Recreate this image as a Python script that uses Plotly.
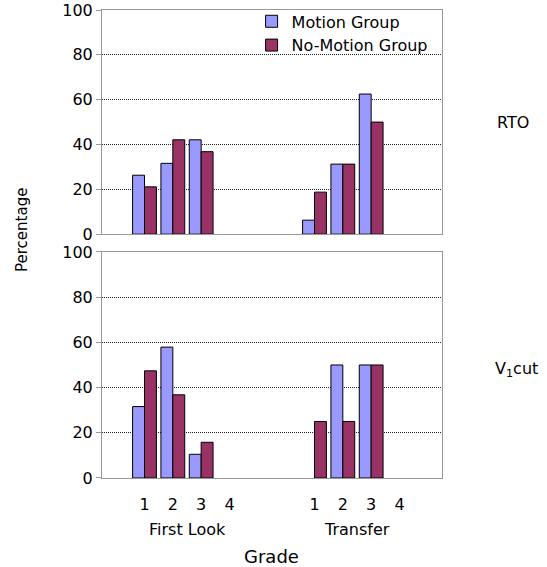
import plotly.graph_objects as go
from plotly.subplots import make_subplots

positions = [1, 2, 3, 4, 7, 8, 9, 10]
tick_labels = ["1", "2", "3", "4", "1", "2", "3", "4"]
group_labels = ["First Look", "Transfer"]
group_centers = [2.5, 8.5]

rto_motion = [26.3, 31.6, 42.1, 0, 6.25, 31.25, 62.5, 0]
rto_nomotion = [21.1, 42.1, 36.8, 0, 18.75, 31.25, 50, 0]
v1_motion = [31.6, 57.9, 10.5, 0, 0, 50, 50, 0]
v1_nomotion = [47.4, 36.8, 15.8, 0, 25, 25, 50, 0]

MOTION = "#9999FF"
NOMOTION = "#993366"
FONT = "DejaVu Sans"

W, H = 547, 567
ML, MR, MT, MB = 102, 105, 10, 89
W_PLOT = W - ML - MR
H_PLOT = H - MT - MB


def px(pix):
    return (pix - ML) / W_PLOT


def py(pix):
    return (H - MB - pix) / H_PLOT


fig = make_subplots(rows=2, cols=1, shared_xaxes=True, vertical_spacing=0.038)


def nz(v):
    return [x if x else None for x in v]


for row, (m, n) in enumerate([(rto_motion, rto_nomotion), (v1_motion, v1_nomotion)], start=1):
    fig.add_trace(go.Bar(x=positions, y=nz(m), name="Motion Group", marker_color=MOTION,
                         marker_line=dict(color="black", width=1), showlegend=(row == 1)), row=row, col=1)
    fig.add_trace(go.Bar(x=positions, y=nz(n), name="No-Motion Group", marker_color=NOMOTION,
                         marker_line=dict(color="black", width=1), showlegend=(row == 1)), row=row, col=1)

axis_common = dict(showline=True, linecolor="#999999", linewidth=1, mirror=True, zeroline=False,
                   automargin=False)
fig.update_xaxes(range=[-0.5, 11.5], tickvals=positions, ticktext=tick_labels, ticks="",
                 ticklabelstandoff=12,
                 showgrid=False, tickfont=dict(family=FONT, size=16, color="black"), **axis_common)
fig.update_yaxes(range=[0, 100], dtick=20, ticks="outside", ticklen=5, tickcolor="#999999",
                 showgrid=True, gridcolor="#222222", griddash="1px,1px", gridwidth=1,
                 tickfont=dict(family=FONT, size=16, color="black"), **axis_common)

fig.update_layout(
    width=W, height=H,
    margin=dict(l=ML, r=MR, t=MT, b=MB, autoexpand=False),
    plot_bgcolor="white", paper_bgcolor="white",
    barmode="group", bargap=0.16, bargroupgap=0,
    font=dict(family=FONT, size=16, color="black"),
    legend=dict(x=0.44, y=1.012, xanchor="left", yanchor="top", bgcolor="rgba(0,0,0,0)",
                font=dict(family=FONT, size=16), tracegroupgap=0),
)
fig.update_layout(yaxis=dict(domain=[0.521, 1.0]), yaxis2=dict(domain=[0.0, 0.483]))

anno = dict(showarrow=False, xanchor="center", yanchor="middle")
for lbl, c in zip(group_labels, group_centers):
    fig.add_annotation(x=c, xref="x", y=py(529), yref="paper", text=lbl,
                       font=dict(family=FONT, size=16), **anno)

fig.add_annotation(x=px(271), y=py(556), xref="paper", yref="paper", text="Grade",
                   font=dict(family=FONT, size=18), **anno)
fig.add_annotation(x=px(22), y=py(230), xref="paper", yref="paper", text="Percentage",
                   textangle=-90, font=dict(family=FONT, size=15), **anno)
fig.add_annotation(x=px(513), y=py(122), xref="paper", yref="paper", text="RTO",
                   font=dict(family=FONT, size=16), **anno)
fig.add_annotation(x=px(516), y=py(370), xref="paper", yref="paper", text="V<sub>1</sub>cut",
                   font=dict(family=FONT, size=16), **anno)

fig.write_html("out.html", config={"displayModeBar": False},
               post_script="document.body.style.margin='0px';")
